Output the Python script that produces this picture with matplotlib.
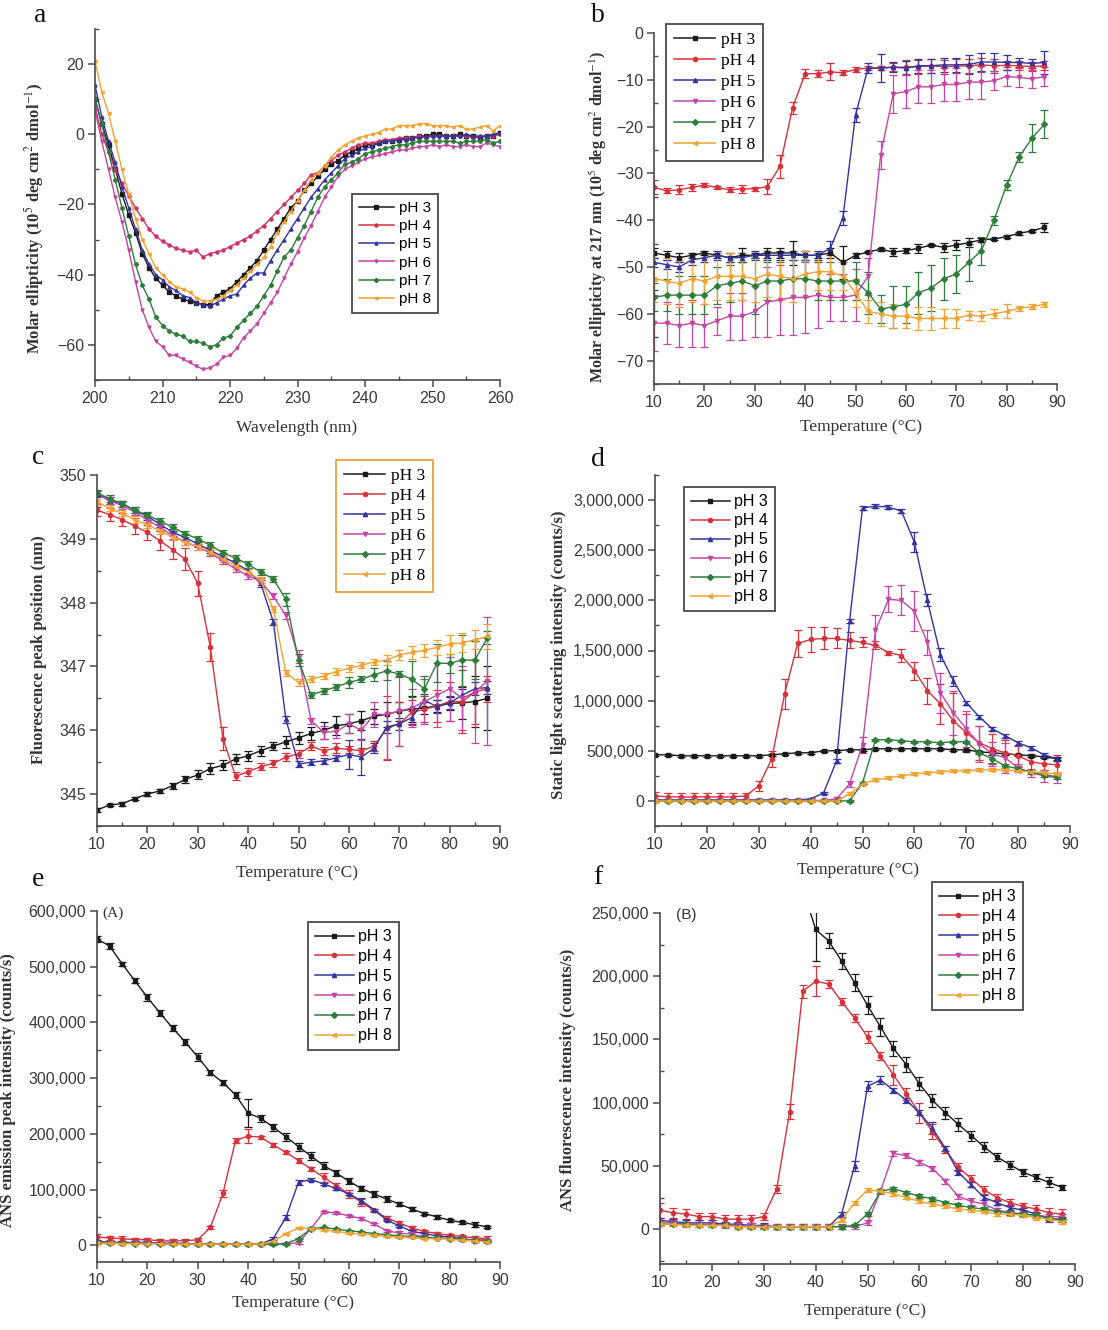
import matplotlib
matplotlib.use("Agg")
import matplotlib.pyplot as plt
from matplotlib.lines import Line2D
from matplotlib.ticker import MultipleLocator, FuncFormatter

plt.rcParams['font.family'] = ['Liberation Sans', 'DejaVu Sans']
plt.rcParams['mathtext.fontset'] = 'stix'

W, H = 1108, 1330

# ---------------- data ----------------
ph_labels = ['pH 3', 'pH 4', 'pH 5', 'pH 6', 'pH 7', 'pH 8']
ph_colors = ['#1a1a1a', '#d6323c', '#34349e', '#c445a6', '#2f7d3a', '#f0a232']
ph_markers = ['s', 'o', '^', 'v', 'D', '<']

# (a) CD spectra
wavelength = list(range(200, 261))
a_ph3 = [10, 3, -3, -10, -17, -23, -28, -34, -38, -41, -43, -45, -46, -47, -47.5, -48, -48.5, -48.5, -46, -45,
         -44, -42, -40, -38, -36, -33, -30, -27, -24, -21, -19, -16, -14, -12, -10, -8.5, -7.5, -6, -5, -4,
         -3, -3, -2.5, -2, -2, -1.5, -1, -1, -0.5, -0.5, 0, 0, -0.5, -0.5, 0, -0.5, -0.5, -1, -0.5, -0.5, 0.5]
a_ph4 = [8, 0, -5, -10, -14, -17.5, -21, -24, -27, -29, -30.5, -31.5, -32.5, -33, -33.5, -33, -35, -34, -33.5, -33,
         -32, -31, -30, -29, -27.5, -26, -24, -22, -20, -18, -16, -14, -11.5, -11, -9, -7.5, -6, -5, -4, -3,
         -2.5, -2.5, -2, -1.5, -1.5, -1, -1, -1, -0.5, -1, -0.5, -0.5, -0.5, -0.5, -0.5, -0.5, -1, -0.5, -0.5, -0.5, 0]
a_ph5 = [14, 5, -2, -8, -15, -21, -27, -33, -37, -40, -41.5, -43.5, -44.5, -46, -46.5, -48, -48.5, -49, -48, -47,
         -46, -45.5, -43, -41, -39.5, -39.5, -36, -33, -30, -27, -24, -21, -18, -15.5, -13, -11, -9, -7, -6, -5,
         -4, -3.5, -2.5, -2, -2, -1.5, -1.5, -1, -1, -0.5, -0.5, -0.5, -0.5, -0.5, -0.5, 0, -0.5, -0.5, -0.5, 0, 0.5]
a_ph6 = [7, -2, -10, -18, -25, -33, -42, -50, -55, -59, -60.5, -63, -63, -64, -65, -66, -67, -66.5, -65.5, -63.5,
         -63, -61, -58, -56, -54, -51, -48, -45, -41, -37, -33.5, -29.5, -26, -22, -18, -15, -12, -10, -9, -8,
         -7, -6.5, -6, -5.5, -5, -4.5, -4.5, -4, -3.5, -3.5, -3, -3.5, -3, -3.5, -3.5, -3, -3.5, -3.5, -2.5, -3, -3.5]
a_ph7 = [10, 3, -5, -13, -21, -29, -37, -43, -47, -52, -54.5, -56, -57, -57.5, -59, -59, -59.5, -60.5, -60, -58,
         -57.5, -55, -53, -51, -49, -46, -43, -39, -35, -33, -29.5, -26, -22, -18, -15, -13, -11, -8.5, -8, -7,
         -5.5, -5, -4.5, -4, -3.5, -3, -3, -2.5, -2, -2, -2, -2, -2, -2, -2.5, -2, -2, -2, -1.5, -2.5, -2]
a_ph8 = [21, 12, 6, -2, -10, -17, -24, -30, -34, -38, -40, -42, -43.5, -44, -45, -46.5, -47.5, -47.5, -47, -46,
         -44.5, -43, -41, -39, -37, -35, -32, -28, -25, -22, -19, -16, -13, -11, -9, -6.5, -4.5, -3, -2, -1,
         -0.5, 0, 0.5, 1.5, 1.5, 2.5, 2.5, 2.5, 3, 3, 2.5, 2.5, 2.5, 2, 2.5, 1.5, 1.5, 2, 2.5, 1, 2.5]

# temperatures (°C)
temps = [10, 12.5, 15, 17.5, 20, 22.5, 25, 27.5, 30, 32.5, 35, 37.5, 40, 42.5, 45, 47.5,
         50, 52.5, 55, 57.5, 60, 62.5, 65, 67.5, 70, 72.5, 75, 77.5, 80, 82.5, 85, 87.5]

# (b) ellipticity at 217 nm
b_ph3 = [-47, -47.5, -48, -47.5, -47, -47.5, -48, -47.5, -47.5, -47, -47, -47, -47.5, -47.5, -47, -49,
         -47.5, -46.8, -46.2, -46.8, -46.5, -46, -45.3, -45.8, -45.3, -44.8, -44.2, -44, -43.5, -42.8, -42.3, -41.5]
b_ph4 = [-33, -33.7, -33.5, -33, -32.5, -33, -33.5, -33.3, -33.3, -32.8, -28.5, -16, -8.7, -8.7, -8.3, -8.5,
         -7.8, -7.5, -7.5, -7.3, -7.3, -7.2, -7, -7.2, -7.1, -7, -6.8, -7, -6.9, -7, -7.2, -7]
b_ph5 = [-49, -49.5, -50, -48.5, -48, -47.5, -48, -48, -47.5, -47.5, -47.5, -47.5, -47.5, -47.5, -46, -39.5,
         -17.5, -7.5, -7.5, -7.3, -7.5, -7, -7, -6.8, -6.8, -6.7, -6.2, -6.2, -6.3, -6.3, -6.5, -6.3]
b_ph6 = [-62, -62, -62.5, -62, -62.5, -61.5, -60.5, -60.5, -59.5, -57.5, -57, -56.5, -56.5, -56, -56.5, -56.5,
         -56, -52, -26, -13, -12.5, -11.5, -11.5, -11, -11, -10.5, -10.5, -10.2, -9.3, -9.5, -9.8, -9.3]
b_ph7 = [-56.5, -56, -56, -56, -56, -54, -53.5, -53, -54, -53, -53, -52.5, -52.5, -53, -53, -53,
         -53, -55.5, -59, -58.5, -58, -55.5, -54.5, -52.5, -51.5, -49, -46.5, -40, -32.5, -26.5, -22.5, -19.5]
b_ph8 = [-52.5, -53, -53.5, -52.5, -53, -52, -52, -52, -52.5, -51.5, -52, -52.5, -51.5, -51, -51, -52,
         -55.5, -59.5, -60, -60.5, -60.5, -61, -61, -61, -61, -60.3, -60.5, -60, -59.5, -58.8, -58.5, -58]
b_err3 = [1, 1, 1, 0.5, 0.5, 0.5, 1, 1.5, 0.5, 1, 1, 2.5, 1, 0.5, 1, 3.5,
          0.5, 0.3, 0.3, 0.8, 0.5, 1, 0.3, 1, 1, 1, 0.5, 0.3, 0.3, 0.3, 0.3, 1]
b_err4 = [1.5, 0.5, 1, 0.8, 0.5, 0.3, 0.5, 0.8, 0.5, 1.5, 2.5, 1.3, 1, 0.8, 1.8, 0.5,
          0.5, 0.5, 0.5, 0.8, 1.5, 1.5, 1.5, 1.5, 1.5, 1.5, 1.5, 1.5, 1, 1, 1, 1]
b_err5 = [1, 1, 1, 1, 1, 1, 1, 1, 1, 1, 1, 1, 1, 1, 1.5, 1.5,
          1.5, 1, 3, 1, 1.5, 1.5, 1.5, 1.5, 1.5, 2, 2, 2, 1.5, 1, 1, 2.5]
b_err6 = [6, 4.5, 4.5, 5, 4.5, 3, 5, 5, 5.5, 7.5, 7.5, 8, 7.5, 7, 5, 5,
          5.5, 4, 3, 4, 3.5, 3.5, 3.5, 3.5, 3.5, 3.5, 3.5, 2, 2, 2, 2, 2]
b_err7 = [3, 3.5, 4, 4, 4, 4, 4, 4, 6, 4, 4, 4, 4, 4, 4, 4,
          4, 4.5, 3, 4.5, 4, 4.5, 5, 4.5, 4, 4, 3, 1, 1, 1, 3, 3]
b_err8 = [5, 5, 5, 5, 5, 5, 5, 5, 5, 5, 5, 5, 5, 4, 4, 3,
          3, 2.5, 2.5, 2.5, 2.5, 2.5, 2.5, 2, 2, 1, 1, 1, 1.5, 0.5, 0.5, 0.5]

# (c) fluorescence peak position (nm)
c_ph3 = [344.75, 344.83, 344.85, 344.93, 345.0, 345.05, 345.13, 345.23, 345.3, 345.4, 345.45, 345.55, 345.6, 345.68, 345.75, 345.82,
         345.88, 345.95, 346.0, 346.07, 346.1, 346.15, 346.22, 346.25, 346.3, 346.33, 346.35, 346.38, 346.42, 346.43, 346.45, 346.5]
c_ph4 = [349.45, 349.38, 349.3, 349.2, 349.1, 348.97, 348.83, 348.68, 348.3, 347.3, 345.87, 345.28, 345.35, 345.43, 345.48, 345.58,
         345.63, 345.75, 345.68, 345.72, 345.7, 345.68, 345.75, 346.03, 346.1, 346.28, 346.33, 346.38, 346.45, 346.45, 346.6, 346.65]
c_ph5 = [349.7, 349.6, 349.55, 349.45, 349.35, 349.23, 349.1, 349.02, 348.92, 348.82, 348.72, 348.62, 348.5, 348.3, 347.7, 346.17,
         345.47, 345.5, 345.52, 345.57, 345.62, 345.58, 345.72, 346.05, 346.1, 346.2, 346.47, 346.37, 346.43, 346.55, 346.65, 346.67]
c_ph6 = [349.72, 349.6, 349.52, 349.42, 349.3, 349.18, 349.05, 348.95, 348.87, 348.78, 348.65, 348.53, 348.42, 348.33, 348.1, 347.8,
         347.15, 346.15, 345.97, 345.98, 346.1, 346.0, 346.25, 346.25, 346.3, 346.35, 346.45, 346.55, 346.65, 346.5, 346.6, 346.77]
c_ph7 = [349.72, 349.63, 349.55, 349.45, 349.37, 349.28, 349.18, 349.08, 349.0, 348.9, 348.78, 348.7, 348.6, 348.48, 348.37, 348.05,
         347.1, 346.55, 346.62, 346.68, 346.75, 346.8, 346.87, 346.93, 346.88, 346.8, 346.65, 347.05, 347.05, 347.1, 347.1, 347.45]
c_ph8 = [349.58, 349.48, 349.4, 349.3, 349.22, 349.12, 349.03, 348.95, 348.88, 348.8, 348.68, 348.58, 348.48, 348.35, 347.9, 346.9,
         346.75, 346.8, 346.85, 346.92, 346.97, 347.02, 347.07, 347.1, 347.18, 347.22, 347.25, 347.3, 347.35, 347.37, 347.42, 347.47]
c_err3 = [0.03, 0.02, 0.03, 0.03, 0.03, 0.03, 0.05, 0.05, 0.07, 0.08, 0.08, 0.08, 0.08, 0.08, 0.06, 0.09,
          0.09, 0.1, 0.13, 0.15, 0.15, 0.15, 0.12, 0.2, 0.15, 0.2, 0.1, 0.1, 0.1, 0.25, 0.4, 0.5]
c_err4 = [0.1, 0.1, 0.1, 0.12, 0.12, 0.15, 0.15, 0.17, 0.2, 0.22, 0.18, 0.06, 0.06, 0.06, 0.06, 0.06,
          0.06, 0.06, 0.06, 0.08, 0.06, 0.05, 0.08, 0.5, 0.35, 0.2, 0.2, 0.25, 0.3, 0.5, 0.5, 0.2]
c_err5 = [0.05, 0.05, 0.05, 0.05, 0.05, 0.05, 0.05, 0.05, 0.05, 0.05, 0.05, 0.05, 0.05, 0.05, 0.05, 0.05,
          0.05, 0.05, 0.05, 0.05, 0.22, 0.28, 0.08, 0.1, 0.1, 0.1, 0.1, 0.1, 0.1, 0.1, 0.1, 0.1]
c_err6 = [0.05, 0.05, 0.05, 0.05, 0.05, 0.05, 0.05, 0.05, 0.05, 0.05, 0.05, 0.05, 0.05, 0.05, 0.05, 0.05,
          0.1, 0.05, 0.1, 0.1, 0.15, 0.15, 0.2, 0.7, 0.55, 0.3, 0.35, 0.5, 0.5, 0.5, 0.8, 1.0]
c_err7 = [0.05, 0.05, 0.05, 0.05, 0.05, 0.05, 0.05, 0.05, 0.05, 0.05, 0.05, 0.05, 0.05, 0.05, 0.05, 0.1,
          0.1, 0.05, 0.05, 0.05, 0.08, 0.05, 0.1, 0.15, 0.05, 0.28, 0.2, 0.3, 0.15, 0.4, 0.3, 0.1]
c_err8 = [0.05, 0.05, 0.05, 0.05, 0.05, 0.05, 0.05, 0.05, 0.05, 0.05, 0.05, 0.05, 0.05, 0.05, 0.05, 0.05,
          0.05, 0.05, 0.05, 0.05, 0.05, 0.05, 0.05, 0.08, 0.08, 0.1, 0.1, 0.12, 0.15, 0.15, 0.15, 0.2]

# (d) static light scattering (counts/s)
d_ph3 = [460000, 460000, 450000, 450000, 450000, 450000, 450000, 450000, 450000, 460000, 470000, 480000, 480000, 500000, 500000, 510000,
         510000, 520000, 520000, 520000, 520000, 520000, 520000, 510000, 510000, 490000, 480000, 470000, 460000, 450000, 440000, 420000]
d_ph4 = [50000, 40000, 40000, 40000, 40000, 40000, 40000, 50000, 150000, 420000, 1070000, 1570000, 1610000, 1620000, 1620000, 1600000,
         1580000, 1550000, 1480000, 1450000, 1300000, 1100000, 970000, 800000, 680000, 580000, 520000, 480000, 450000, 390000, 370000, 360000]
d_ph5 = [10000, 10000, 10000, 10000, 10000, 10000, 10000, 10000, 10000, 10000, 10000, 10000, 20000, 80000, 400000, 1790000,
         2920000, 2940000, 2930000, 2890000, 2580000, 2000000, 1460000, 1200000, 980000, 840000, 720000, 650000, 580000, 530000, 460000, 420000]
d_ph6 = [5000, 5000, 5000, 5000, 5000, 5000, 5000, 5000, 5000, 5000, 5000, 5000, 5000, 5000, 20000, 170000,
         560000, 1700000, 2010000, 2000000, 1890000, 1580000, 1080000, 880000, 720000, 570000, 470000, 430000, 330000, 280000, 250000, 230000]
d_ph7 = [0, 0, 0, 0, 0, 0, 0, 0, 0, 0, 0, 0, 0, 0, 0, 0,
         180000, 610000, 610000, 600000, 590000, 590000, 580000, 590000, 590000, 480000, 420000, 350000, 320000, 290000, 260000, 240000]
d_ph8 = [0, 0, 0, 0, 0, 0, 0, 0, 0, 0, 0, 0, 0, 0, 0, 70000,
         170000, 210000, 230000, 250000, 270000, 280000, 290000, 300000, 300000, 310000, 310000, 310000, 300000, 290000, 280000, 270000]
d_err3 = [10000, 10000, 10000, 10000, 10000, 10000, 10000, 10000, 10000, 10000, 10000, 10000, 10000, 10000, 10000, 10000,
          10000, 10000, 10000, 10000, 10000, 10000, 10000, 10000, 10000, 10000, 20000, 10000, 10000, 10000, 10000, 10000]
d_err4 = [40000, 40000, 40000, 40000, 40000, 40000, 40000, 30000, 50000, 80000, 150000, 130000, 120000, 110000, 100000, 80000,
          50000, 40000, 20000, 60000, 90000, 130000, 200000, 280000, 190000, 170000, 150000, 130000, 100000, 80000, 60000, 100000]
d_err5 = [10000, 10000, 10000, 10000, 10000, 10000, 10000, 10000, 10000, 10000, 10000, 10000, 10000, 10000, 20000, 20000,
          20000, 20000, 20000, 20000, 100000, 60000, 60000, 50000, 20000, 20000, 20000, 20000, 20000, 20000, 20000, 20000]
d_err6 = [10000, 10000, 10000, 10000, 10000, 10000, 10000, 10000, 10000, 10000, 10000, 10000, 10000, 10000, 20000, 30000,
          80000, 150000, 130000, 150000, 200000, 120000, 200000, 220000, 180000, 180000, 120000, 150000, 40000, 40000, 60000, 50000]
d_err7 = [10000, 10000, 10000, 10000, 10000, 10000, 10000, 10000, 10000, 10000, 10000, 10000, 10000, 10000, 10000, 10000,
          10000, 10000, 10000, 10000, 10000, 10000, 10000, 10000, 10000, 10000, 40000, 20000, 20000, 20000, 20000, 20000]
d_err8 = [15000, 15000, 15000, 15000, 15000, 15000, 15000, 15000, 15000, 15000, 15000, 15000, 15000, 15000, 15000, 15000,
          15000, 15000, 15000, 15000, 15000, 15000, 15000, 15000, 15000, 15000, 15000, 15000, 15000, 15000, 15000, 15000]

# (e, f) ANS emission intensity (counts/s) -- same data, two y ranges
ans_ph3 = [550000, 537000, 505000, 475000, 445000, 417000, 390000, 365000, 338000, 310000, 292000, 270000, 237000, 228000, 212000, 195000,
           177000, 160000, 143000, 130000, 115000, 102000, 92000, 83000, 74000, 65000, 57000, 51000, 45000, 41000, 37000, 33000]
ans_ph4 = [15000, 13000, 12000, 10000, 10000, 8000, 8000, 8000, 10000, 32000, 93000, 188000, 196000, 194000, 180000, 167000,
           152000, 137000, 122000, 107000, 92000, 77000, 63000, 49000, 40000, 31000, 25000, 21000, 18000, 16000, 13000, 12000]
ans_ph5 = [7000, 6000, 5000, 5000, 5000, 4000, 4000, 3000, 3000, 2000, 2000, 2000, 2000, 2000, 12000, 50000,
           113000, 118000, 110000, 102000, 92000, 80000, 64000, 45000, 35000, 25000, 21000, 17000, 15000, 12000, 8000, 8000]
ans_ph6 = [5000, 5000, 4000, 4000, 4000, 3000, 3000, 3000, 2000, 2000, 2000, 2000, 2000, 2000, 2000, 2000,
           5000, 30000, 60000, 58000, 53000, 48000, 38000, 26000, 22000, 20000, 15000, 13000, 12000, 11000, 10000, 10000]
ans_ph7 = [4000, 4000, 4000, 3000, 3000, 3000, 2000, 2000, 2000, 2000, 2000, 2000, 2000, 2000, 2000, 3000,
           12000, 30000, 32000, 29000, 26000, 24000, 21000, 19000, 17000, 16000, 14000, 13000, 12000, 11000, 9000, 7000]
ans_ph8 = [4000, 4000, 3000, 3000, 3000, 3000, 2000, 2000, 2000, 2000, 2000, 2000, 2000, 2000, 7000, 21000,
           31000, 30000, 28000, 25000, 22000, 20000, 18000, 16000, 15000, 14000, 12000, 12000, 11000, 9000, 8000, 6000]
ans_err3 = [5000, 5000, 4000, 4000, 6000, 6000, 5000, 6000, 8000, 5000, 5000, 5000, 25000, 6000, 6000, 7000,
            7000, 7000, 6000, 6000, 5000, 5000, 5000, 5000, 4000, 4000, 3000, 3000, 3000, 3000, 4000, 2000]
ans_err4 = [6000, 4000, 4000, 3000, 3000, 3000, 3000, 3000, 3000, 3000, 6000, 5000, 12000, 3000, 3000, 3000,
            5000, 3000, 8000, 5000, 8000, 6000, 3000, 3000, 3000, 3000, 3000, 3000, 3000, 3000, 4000, 4000]
ans_err5 = [2000, 2000, 2000, 2000, 2000, 2000, 2000, 2000, 2000, 2000, 2000, 2000, 2000, 2000, 2000, 4000,
            4000, 3000, 2000, 2000, 2000, 5000, 2000, 2000, 2000, 2000, 2000, 2000, 2000, 2000, 2000, 2000]
ans_err6 = [2000, 2000, 2000, 2000, 2000, 2000, 2000, 2000, 2000, 2000, 2000, 2000, 2000, 2000, 2000, 2000,
            2000, 2000, 2000, 2000, 2000, 2000, 2000, 2000, 3000, 3000, 2000, 2000, 2000, 2000, 2000, 2000]
ans_err7 = [1500, 1500, 1500, 1500, 1500, 1500, 1500, 1500, 1500, 1500, 1500, 1500, 1500, 1500, 1500, 1500,
            1500, 1500, 1500, 1500, 1500, 1500, 1500, 1500, 1500, 1500, 1500, 1500, 1500, 1500, 1500, 1500]
ans_err8 = [1500, 1500, 1500, 1500, 1500, 1500, 1500, 1500, 1500, 1500, 1500, 1500, 1500, 1500, 1500, 1500,
            1500, 1500, 1500, 1500, 1500, 1500, 1500, 1500, 1500, 1500, 1500, 1500, 1500, 1500, 1500, 1500]

SERIF = 'Liberation Serif'
SANS = 'Liberation Sans'


def px_axes(fig, left, top, right, bottom):
    return fig.add_axes([left / W, 1 - bottom / H, (right - left) / W, (bottom - top) / H])


def style_axes(ax, xmaj, xmin, ymaj, ymin):
    for s in ['top', 'right']:
        ax.spines[s].set_visible(False)
    for s in ['left', 'bottom']:
        ax.spines[s].set_color('#4a4a4a')
        ax.spines[s].set_linewidth(1.2)
    ax.xaxis.set_major_locator(MultipleLocator(xmaj))
    ax.xaxis.set_minor_locator(MultipleLocator(xmin))
    ax.yaxis.set_major_locator(MultipleLocator(ymaj))
    ax.yaxis.set_minor_locator(MultipleLocator(ymin))
    ax.tick_params(which='major', direction='out', length=5, width=1.1, color='#4a4a4a',
                   labelsize=11.5, labelcolor='#3a3a3a', pad=3)
    ax.tick_params(which='minor', direction='in', length=3, width=1.0, color='#4a4a4a')
    ax.set_facecolor('none')


def add_legend(ax, fig, left, top, ms, family, size, edge='#4a4a4a', hlen=2.4, spacing=0.3):
    handles = [Line2D([0], [0], color=c, marker=m, ms=ms, lw=1.1)
               for c, m in zip(ph_colors, ph_markers)]
    leg = ax.legend(handles, ph_labels, loc='upper left', bbox_to_anchor=(left / W, 1 - top / H),
                    bbox_transform=fig.transFigure, borderaxespad=0, fancybox=False, framealpha=1,
                    edgecolor=edge, handlelength=hlen, handletextpad=0.3, labelspacing=spacing,
                    borderpad=0.45, prop={'family': family, 'size': size})
    leg.get_frame().set_linewidth(1.3)
    return leg


def draw_err(ax, x, series, errors, ms=3.0):
    for y, e, c, m in zip(series, errors, ph_colors, ph_markers):
        ax.errorbar(x, y, yerr=e, color=c, marker=m, ms=ms, lw=1.0, elinewidth=0.9,
                    capsize=2.8, capthick=0.9)


def comma_fmt(v, pos):
    return f'{int(round(v)):,}'


def xlabel_at(fig, x, y, text):
    fig.text(x / W, 1 - y / H, text, ha='center', va='center', family=SERIF, fontsize=12.5, color='#333333')


def ylabel_at(fig, x, y, text, size=12):
    fig.text(x / W, 1 - y / H, text, ha='center', va='center', rotation=90, family=SERIF,
             fontsize=size, fontweight='bold', color='#333333')


def letter_at(fig, x, y, text):
    fig.text(x / W, 1 - y / H, text, ha='center', va='center', family=SERIF, fontsize=20, color='#111111')


fig = plt.figure(figsize=(W / 100, H / 100), dpi=100)

# ---------------- panel a ----------------
ax = px_axes(fig, 95, 29, 500, 380)
for y, c, m in zip([a_ph3, a_ph4, a_ph5, a_ph6, a_ph7, a_ph8], ['#1a1a1a', '#cc3366', '#34349e', '#c445a6', '#2f7d3a', '#f0a232'], ph_markers):
    ax.plot(wavelength, y, color=c, marker=m, ms=2.2, lw=1.0)
ax.set_xlim(200, 260)
ax.set_ylim(-70, 30)
style_axes(ax, 10, 5, 20, 10)
add_legend(ax, fig, 352, 194, 2.2, SANS, 11, hlen=2.3, spacing=0.28)
letter_at(fig, 40, 15, 'a')
xlabel_at(fig, 297, 428, 'Wavelength (nm)')
ylabel_at(fig, 34, 218, r'Molar ellipticity (10$^{5}$ deg cm$^{2}$ dmol$^{-1}$)')

# ---------------- panel b ----------------
ax = px_axes(fig, 654, 33, 1057, 384)
draw_err(ax, temps, [b_ph3, b_ph4, b_ph5, b_ph6, b_ph7, b_ph8],
         [b_err3, b_err4, b_err5, b_err6, b_err7, b_err8])
ax.set_xlim(10, 90)
ax.set_ylim(-75, 0)
style_axes(ax, 10, 5, 10, 5)
add_legend(ax, fig, 666, 24, 3.0, SERIF, 12.5, hlen=2.4, spacing=0.28)
letter_at(fig, 598, 15, 'b')
xlabel_at(fig, 861, 427, 'Temperature (°C)')
ylabel_at(fig, 598, 217, r'Molar ellipticity at 217 nm (10$^{5}$ deg cm$^{2}$ dmol$^{-1}$)', size=11.5)

# ---------------- panel c ----------------
ax = px_axes(fig, 97, 475, 500, 826)
draw_err(ax, temps, [c_ph3, c_ph4, c_ph5, c_ph6, c_ph7, c_ph8],
         [c_err3, c_err4, c_err5, c_err6, c_err7, c_err8])
ax.set_xlim(10, 90)
ax.set_ylim(344.5, 350)
style_axes(ax, 10, 5, 1, 0.5)
add_legend(ax, fig, 336, 460, 3.0, SERIF, 12.5, edge='#e8a23c', hlen=2.4, spacing=0.22)
letter_at(fig, 38, 458, 'c')
xlabel_at(fig, 297, 873, 'Temperature (°C)')
ylabel_at(fig, 39, 650, 'Fluorescence peak position (nm)')

# ---------------- panel d ----------------
ax = px_axes(fig, 655, 475, 1070, 826)
draw_err(ax, temps, [d_ph3, d_ph4, d_ph5, d_ph6, d_ph7, d_ph8],
         [d_err3, d_err4, d_err5, d_err6, d_err7, d_err8])
ax.set_xlim(10, 90)
ax.set_ylim(-250000, 3250000)
style_axes(ax, 10, 5, 500000, 250000)
ax.yaxis.set_major_formatter(FuncFormatter(comma_fmt))
add_legend(ax, fig, 684, 487, 3.0, SANS, 11.5, hlen=2.4, spacing=0.25)
letter_at(fig, 598, 460, 'd')
xlabel_at(fig, 858, 870, 'Temperature (°C)')
ylabel_at(fig, 559, 655, 'Static light scattering intensity (counts/s)')

# ---------------- panel e ----------------
ax = px_axes(fig, 97, 911, 500, 1262)
draw_err(ax, temps, [ans_ph3, ans_ph4, ans_ph5, ans_ph6, ans_ph7, ans_ph8],
         [ans_err3, ans_err4, ans_err5, ans_err6, ans_err7, ans_err8])
ax.set_xlim(10, 90)
ax.set_ylim(-30000, 600000)
style_axes(ax, 10, 5, 100000, 50000)
ax.yaxis.set_major_formatter(FuncFormatter(comma_fmt))
add_legend(ax, fig, 308, 922, 3.0, SANS, 11.5, hlen=2.4, spacing=0.3)
letter_at(fig, 38, 880, 'e')
fig.text(113 / W, 1 - 913 / H, '(A)', ha='center', va='center', family=SERIF, fontsize=11, color='#333333')
xlabel_at(fig, 293, 1303, 'Temperature (°C)')
ylabel_at(fig, 8, 1090, 'ANS emission peak intensity (counts/s)')

# ---------------- panel f ----------------
ax = px_axes(fig, 660, 913, 1075, 1264)
draw_err(ax, temps, [ans_ph3, ans_ph4, ans_ph5, ans_ph6, ans_ph7, ans_ph8],
         [ans_err3, ans_err4, ans_err5, ans_err6, ans_err7, ans_err8])
ax.set_xlim(10, 90)
ax.set_ylim(-27500, 250000)
style_axes(ax, 10, 5, 50000, 25000)
ax.yaxis.set_major_formatter(FuncFormatter(comma_fmt))
add_legend(ax, fig, 932, 882, 3.0, SANS, 11.5, hlen=2.4, spacing=0.3)
letter_at(fig, 598, 878, 'f')
fig.text(686 / W, 1 - 915 / H, '(B)', ha='center', va='center', family=SANS, fontsize=11, color='#333333')
xlabel_at(fig, 865, 1311, 'Temperature (°C)')
ylabel_at(fig, 568, 1080, 'ANS fluorescence intensity (counts/s)')

fig.savefig('out.png', dpi=100)
